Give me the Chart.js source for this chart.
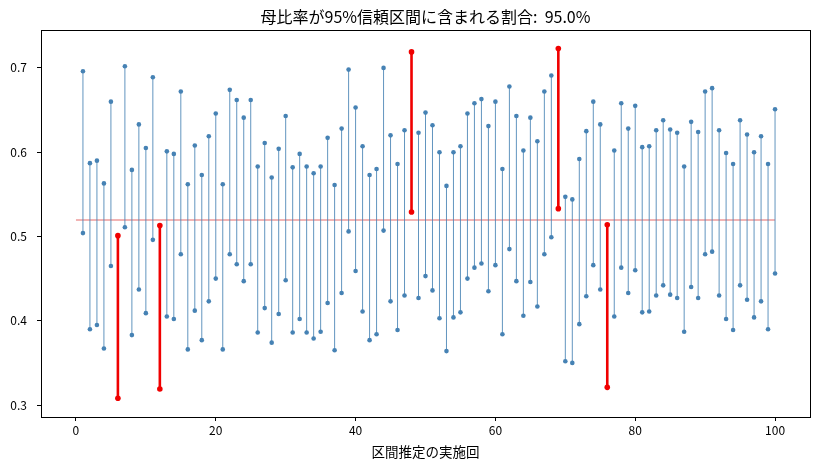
<!DOCTYPE html>
<html>
<head>
<meta charset="utf-8">
<script src="https://cdn.jsdelivr.net/npm/chart.js@4/dist/chart.umd.min.js"></script>
<style>
  html, body { margin: 0; padding: 0; background: #fff; }
  #wrap { width: 825px; height: 467px; }
</style>
</head>
<body>
<div id="wrap"><canvas id="c"></canvas></div>
<script>
const trueP = 0.52;
const refStart = 0, refEnd = 100;
const trials = Array.from({length: 100}, (_, k) => k + 1);
const lower = [
  0.504, 0.390, 0.395, 0.367, 0.465, 0.308, 0.511, 0.383, 0.437, 0.409,
  0.496, 0.319, 0.405, 0.402, 0.479, 0.366, 0.412, 0.377, 0.423, 0.450,
  0.366, 0.479, 0.467, 0.447, 0.467, 0.386, 0.415, 0.374, 0.408, 0.448,
  0.386, 0.402, 0.386, 0.379, 0.387, 0.421, 0.365, 0.433, 0.506, 0.459,
  0.411, 0.377, 0.384, 0.507, 0.423, 0.389, 0.430, 0.529, 0.427, 0.453,
  0.436, 0.403, 0.364, 0.404, 0.410, 0.450, 0.463, 0.468, 0.435, 0.466,
  0.384, 0.485, 0.447, 0.406, 0.446, 0.417, 0.479, 0.499, 0.533, 0.352,
  0.350, 0.396, 0.429, 0.466, 0.437, 0.321, 0.405, 0.463, 0.433, 0.460,
  0.410, 0.411, 0.430, 0.442, 0.431, 0.427, 0.387, 0.440, 0.427, 0.479,
  0.482, 0.430, 0.402, 0.389, 0.442, 0.425, 0.404, 0.423, 0.390, 0.456
];
const upper = [
  0.696, 0.587, 0.590, 0.563, 0.660, 0.501, 0.702, 0.579, 0.633, 0.605,
  0.689, 0.513, 0.601, 0.598, 0.672, 0.562, 0.608, 0.573, 0.619, 0.646,
  0.562, 0.674, 0.662, 0.641, 0.662, 0.583, 0.611, 0.570, 0.604, 0.643,
  0.582, 0.598, 0.583, 0.575, 0.583, 0.617, 0.561, 0.628, 0.698, 0.653,
  0.607, 0.573, 0.580, 0.700, 0.620, 0.586, 0.626, 0.719, 0.623, 0.647,
  0.632, 0.600, 0.560, 0.600, 0.607, 0.646, 0.658, 0.663, 0.631, 0.660,
  0.580, 0.678, 0.643, 0.602, 0.641, 0.613, 0.672, 0.691, 0.723, 0.547,
  0.544, 0.592, 0.625, 0.660, 0.633, 0.514, 0.602, 0.658, 0.628, 0.655,
  0.606, 0.607, 0.626, 0.638, 0.627, 0.623, 0.583, 0.636, 0.624, 0.672,
  0.676, 0.626, 0.599, 0.586, 0.638, 0.621, 0.600, 0.619, 0.586, 0.651
];
const xTicks = [0, 20, 40, 60, 80, 100];
const yTicks = [0.3, 0.4, 0.5, 0.6, 0.7];

const coverage = trials.filter((t, k) => lower[k] <= trueP && trueP <= upper[k]).length / trials.length * 100;
const titleText = '母比率が95%信頼区間に含まれる割合:  ' + coverage.toFixed(1) + '%';

const hitData = [], missData = [];
trials.forEach((t, k) => {
  const hit = lower[k] <= trueP && trueP <= upper[k];
  const target = hit ? hitData : missData;
  target.push({x: t, y: lower[k]}, {x: t, y: upper[k]}, {x: t, y: null});
});

const FONT = '"Noto Sans CJK JP", "DejaVu Sans", sans-serif';

const refLinePlugin = {
  id: 'refLine',
  beforeDatasetsDraw(chart) {
    const {ctx, scales: {x, y}} = chart;
    const py = Math.round(y.getPixelForValue(trueP));
    ctx.save();
    ctx.fillStyle = 'rgb(242,180,180)';
    const x0 = x.getPixelForValue(refStart), x1 = x.getPixelForValue(refEnd);
    ctx.fillRect(x0, py - 1, x1 - x0, 2);
    ctx.restore();
  }
};

const frameAndTitle = {
  id: 'frameAndTitle',
  afterDraw(chart) {
    const {ctx, chartArea: a} = chart;
    ctx.save();
    ctx.strokeStyle = '#000';
    ctx.lineWidth = 1;
    ctx.strokeRect(Math.round(a.left) + 0.5, Math.round(a.top) + 0.5,
                   Math.round(a.right - a.left), Math.round(a.bottom - a.top));
    ctx.fillStyle = '#000';
    ctx.font = '16px ' + FONT;
    ctx.textAlign = 'center';
    ctx.textBaseline = 'middle';
    ctx.fillText(titleText, (a.left + a.right) / 2, a.top - 13);
    ctx.restore();
  }
};

new Chart(document.getElementById('c'), {
  type: 'line',
  data: {
    datasets: [
      {
        label: 'hit',
        data: hitData,
        borderColor: 'rgba(70,130,180,0.85)',
        backgroundColor: 'rgba(70,130,180,1)',
        borderWidth: 1,
        pointRadius: 2.3,
        pointBorderWidth: 0,
        spanGaps: false,
        fill: false,
        order: 2
      },
      {
        label: 'miss',
        data: missData,
        borderColor: 'rgb(240,0,0)',
        backgroundColor: 'rgb(240,0,0)',
        borderWidth: 2.6,
        pointRadius: 2.8,
        pointBorderWidth: 0,
        spanGaps: false,
        fill: false,
        order: 1
      }
    ]
  },
  options: {
    responsive: true,
    maintainAspectRatio: false,
    animation: false,
    layout: { padding: { left: 0, right: 15, top: 30, bottom: 0 } },
    plugins: {
      legend: { display: false },
      tooltip: { enabled: false },
      title: { display: false }
    },
    scales: {
      x: {
        type: 'linear',
        min: -5,
        max: 105,
        afterBuildTicks: s => { s.ticks = xTicks.map(v => ({value: v})); },
        afterFit: s => { s.height = 50; },
        grid: { drawOnChartArea: false, drawTicks: true, tickLength: 4, color: '#000' },
        border: { display: true, color: '#000', width: 1 },
        ticks: { color: '#000', font: { family: FONT, size: 12 }, padding: 2, maxRotation: 0 },
        title: { display: true, text: '区間推定の実施回', color: '#000', font: { family: FONT, size: 13.5 }, padding: { top: 0, bottom: 7 } }
      },
      y: {
        type: 'linear',
        min: 0.2858,
        max: 0.745,
        afterBuildTicks: s => { s.ticks = yTicks.map(v => ({value: v})); },
        afterFit: s => { s.width = 41; },
        grid: { drawOnChartArea: false, drawTicks: true, tickLength: 4, color: '#000' },
        border: { display: true, color: '#000', width: 1 },
        ticks: { color: '#000', font: { family: FONT, size: 12 }, padding: 10, callback: v => v.toFixed(1) }
      }
    }
  },
  plugins: [refLinePlugin, frameAndTitle]
});
</script>
</body>
</html>
